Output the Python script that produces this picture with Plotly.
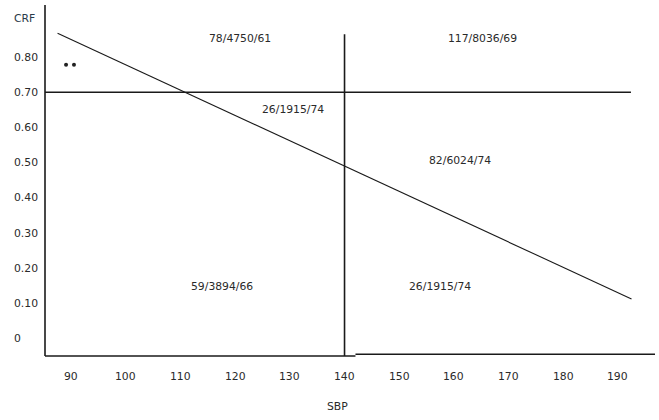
import plotly.graph_objects as go

# ---- data ----
sbp_ticks = [90, 100, 110, 120, 130, 140, 150, 160, 170, 180, 190]
crf_ticks = [0, 0.10, 0.20, 0.30, 0.40, 0.50, 0.60, 0.70, 0.80]
crf_tick_labels = ["0", "0.10", "0.20", "0.30", "0.40", "0.50", "0.60", "0.70", "0.80"]

diag_sbp = [87.5, 192.5]
diag_crf = [0.868, 0.113]

sbp_cut = 140
crf_cut = 0.70
crf_cut_end = 192.4
sbp_cut_top = 0.865

cell_labels = ["78/4750/61", "117/8036/69", "26/1915/74", "82/6024/74", "59/3894/66", "26/1915/74"]
cell_sbp = [120.9, 165.3, 130.6, 161.1, 117.6, 157.4]
cell_crf = [0.854, 0.854, 0.650, 0.507, 0.149, 0.149]

dot_sbp = [89.05, 90.5]
dot_crf = [0.778, 0.778]

x_range = [85.2, 196.8]
y_range = [-0.049, 0.948]

FONT = "DejaVu Sans, Verdana, sans-serif"
TXT = "#2a2a2a"
LINE = "#1a1a1a"
FS = 10.8

fig = go.Figure()

# diagonal line
fig.add_trace(go.Scatter(x=diag_sbp, y=diag_crf, mode="lines",
                         line=dict(color=LINE, width=1.1), hoverinfo="skip"))
# dots
fig.add_trace(go.Scatter(x=dot_sbp, y=dot_crf, mode="markers",
                         marker=dict(color="#222", size=4), hoverinfo="skip"))

shapes = []
# y axis line
shapes.append(dict(type="line", xref="paper", yref="paper", x0=0, x1=0, y0=0, y1=1,
                   line=dict(color=LINE, width=1.6)))
# x axis line (left part up to the 140 cut, right part a hair higher as in the source)
shapes.append(dict(type="line", xref="x", yref="paper", x0=x_range[0] - 0.6, x1=sbp_cut + 2,
                   y0=0, y1=0, line=dict(color=LINE, width=1.6)))
shapes.append(dict(type="line", xref="x", yref="paper", x0=sbp_cut + 2, x1=x_range[1],
                   y0=0.005, y1=0.005, line=dict(color=LINE, width=1.6)))
# horizontal threshold
shapes.append(dict(type="line", xref="x", yref="y", x0=x_range[0], x1=crf_cut_end,
                   y0=crf_cut, y1=crf_cut, line=dict(color=LINE, width=1.6)))
# vertical threshold
shapes.append(dict(type="line", xref="x", yref="y", x0=sbp_cut, x1=sbp_cut,
                   y0=sbp_cut_top, y1=y_range[0] - 0.012, line=dict(color=LINE, width=1.6)))

annotations = []
for lab, xv, yv in zip(cell_labels, cell_sbp, cell_crf):
    annotations.append(dict(x=xv, y=yv, xref="x", yref="y", text=lab, showarrow=False,
                            font=dict(family=FONT, size=FS, color=TXT),
                            xanchor="center", yanchor="middle"))
# y tick labels (left aligned)
for lab, yv in zip(crf_tick_labels, crf_ticks):
    annotations.append(dict(x=0, y=yv, xref="paper", yref="y", text=lab, showarrow=False,
                            xshift=-33, xanchor="left", yanchor="middle",
                            font=dict(family=FONT, size=FS, color=TXT)))
# x tick labels
for xv in sbp_ticks:
    annotations.append(dict(x=xv, y=0, xref="x", yref="paper", text=str(xv), showarrow=False,
                            yshift=-20, xanchor="center", yanchor="middle",
                            font=dict(family=FONT, size=FS, color=TXT)))
# axis titles
annotations.append(dict(x=0, y=1, xref="paper", yref="paper", text="CRF", showarrow=False,
                        xshift=-33, yshift=-13, xanchor="left", yanchor="middle",
                        font=dict(family=FONT, size=FS, color="#2b3a4a")))
annotations.append(dict(x=sbp_cut - 1.3, y=0, xref="x", yref="paper", text="SBP", showarrow=False,
                        yshift=-50, xanchor="center", yanchor="middle",
                        font=dict(family=FONT, size=FS, color=TXT)))

fig.update_layout(
    width=659, height=420,
    margin=dict(l=45, r=4, t=5, b=64),
    paper_bgcolor="white", plot_bgcolor="white",
    showlegend=False,
    shapes=shapes, annotations=annotations,
    xaxis=dict(range=x_range, showgrid=False, zeroline=False, showline=False,
               showticklabels=False, ticks=""),
    yaxis=dict(range=y_range, showgrid=False, zeroline=False, showline=False,
               showticklabels=False, ticks=""),
)

fig.write_html("out.html", config={"displayModeBar": False},
               post_script="document.body.style.margin='0';document.body.style.overflow='hidden';")
